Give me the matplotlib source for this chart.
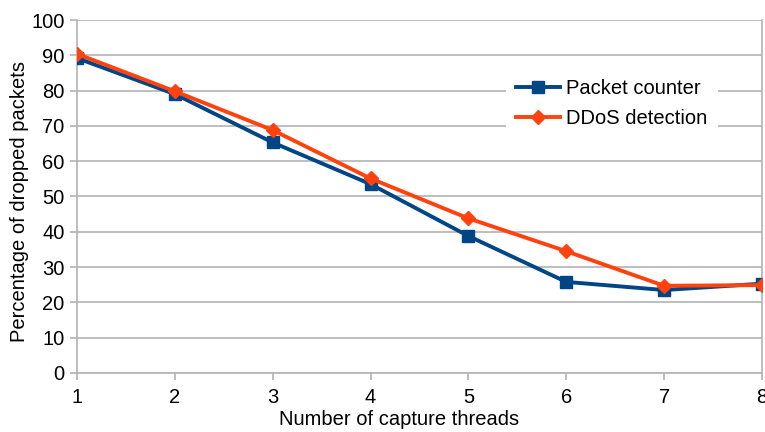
import matplotlib
matplotlib.use("Agg")
import matplotlib.pyplot as plt

threads = [1, 2, 3, 4, 5, 6, 7, 8]
packet_counter = [89.2, 79.0, 65.3, 53.5, 38.8, 25.8, 23.5, 25.3]
ddos_detection = [90.4, 79.8, 68.8, 55.1, 43.8, 34.5, 24.7, 24.9]
y_ticks = [0, 10, 20, 30, 40, 50, 60, 70, 80, 90, 100]

plt.rcParams["font.family"] = ["Liberation Sans", "DejaVu Sans"]

fig = plt.figure(figsize=(7.65, 4.32), dpi=100)
ax = fig.add_axes([0.1007, 0.1366, 0.8953, 0.8171])

grid_col = "#b3b3b3"

ax.plot(threads, packet_counter, color="#004586", linewidth=2.8,
        marker="s", markersize=9, label="Packet counter", zorder=3)
ax.plot(threads, ddos_detection, color="#ff420e", linewidth=2.8,
        marker="D", markersize=7.5, label="DDoS detection", zorder=4)

ax.set_xlim(1, 8)
ax.set_ylim(0, 100)
ax.set_xticks(threads)
ax.set_yticks(y_ticks)
ax.yaxis.grid(True, color=grid_col, linewidth=1.2)
ax.set_axisbelow(True)

for s in ["left", "bottom", "right"]:
    ax.spines[s].set_color(grid_col)
    ax.spines[s].set_linewidth(1.2)
ax.spines["top"].set_visible(False)

ax.tick_params(axis="both", colors=grid_col, labelcolor="black",
               labelsize=14.5, length=5, width=1.2)
ax.tick_params(axis="y", pad=4)
ax.tick_params(axis="x", pad=6)

ax.set_xlabel("Number of capture threads", fontsize=14.5)
ax.set_ylabel("Percentage of dropped packets", fontsize=14.5)
ax.xaxis.set_label_coords(0.47, -0.105)
ax.yaxis.set_label_coords(-0.07, 0.485)

leg = ax.legend(loc="upper right", bbox_to_anchor=(0.95, 0.89),
                frameon=True, fontsize=14.5, handlelength=2.2,
                handletextpad=0.3, labelspacing=0.55, borderpad=0.5,
                fancybox=False)
leg.get_frame().set_edgecolor("none")
leg.get_frame().set_facecolor("white")
leg.get_frame().set_alpha(1)

fig.savefig("out.png", dpi=100)
plt.close(fig)
